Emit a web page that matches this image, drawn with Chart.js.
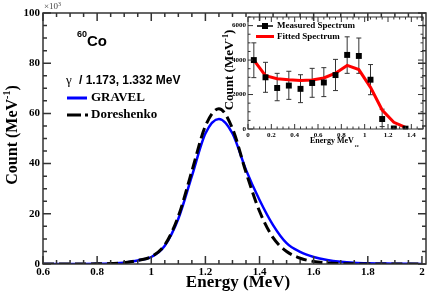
<!DOCTYPE html>
<html>
<head>
<meta charset="utf-8">
<script src="https://cdn.jsdelivr.net/npm/chart.js@4.4.1/dist/chart.umd.min.js"></script>
<style>
  html, body { margin: 0; padding: 0; background: #fff; }
  #wrap { position: relative; width: 436px; height: 295px; }
  #main { position: absolute; left: 0; top: 0; }
  #inset { position: absolute; left: 220px; top: 4px; }
</style>
</head>
<body>
<div id="wrap">
  <canvas id="main" width="436" height="295"></canvas>
  <canvas id="inset" width="210" height="146"></canvas>
</div>
<script>
// main spectrum, count in units of 10^3 per MeV
const energy = [0.6, 0.65, 0.7, 0.75, 0.8, 0.85, 0.9, 0.95, 1.0, 1.05, 1.1, 1.15, 1.2, 1.25, 1.3,
  1.35, 1.4, 1.45, 1.5, 1.55, 1.6, 1.65, 1.7, 1.75, 1.8, 1.85, 1.9, 1.95, 2.0];
const gravel = [0, 0, 0, 0, 0.05, 0.2, 0.5, 1.4, 2.8, 7.3, 18, 35, 52, 57.8, 52,
  37.5, 25.5, 15.5, 8.3, 4.8, 2.8, 1.6, 0.9, 0.5, 0.3, 0.2, 0.1, 0.05, 0];
const doreshenko = [0, 0, 0, 0, 0.05, 0.2, 0.5, 1.4, 2.9, 7.6, 19, 37, 55, 61.9, 54,
  36.5, 21, 10.5, 5, 2.3, 1.0, 0.4, 0.15, 0.05, 0, 0, 0, 0, 0];
const mainXTicks = [0.6, 0.8, 1, 1.2, 1.4, 1.6, 1.8, 2];
const mainYTicks = [0, 20, 40, 60, 80, 100];

// inset: unfolded neutron spectrum
const binEnergy = [0.05, 0.15, 0.25, 0.35, 0.45, 0.55, 0.65, 0.75, 0.85, 0.95, 1.05, 1.15, 1.25, 1.35];
const measured = [4000, 3000, 2380, 2520, 2330, 2670, 2700, 3130, 4300, 4240, 2860, 580, 30, 20];
const measuredLow = [2980, 2130, 1640, 1720, 1530, 1840, 1880, 2230, 3230, 3230, 1990, 140, 0, 0];
const measuredHigh = [5000, 3870, 3230, 3350, 3150, 3520, 3560, 4040, 5350, 5280, 3740, 1150, 90, 60];
const fitted = [4000, 3100, 2920, 2860, 2820, 2840, 2960, 3240, 3690, 3450, 2420, 1100, 390, 90];
const insetXTicks = [0, 0.2, 0.4, 0.6, 0.8, 1, 1.2, 1.4];
const insetYTicks = [0, 2000, 4000, 6000];

const SERIF = "'Liberation Serif', 'Times New Roman', serif";
const SANS = "'Liberation Sans', Arial, sans-serif";

const fmt = v => String(Math.round(v * 1000) / 1000);
const pts = (xs, ys) => xs.map((x, i) => ({ x, y: ys[i] }));

// frame with inward ticks on all four sides
function drawFrame(chart, xMajor, xStep, yMajor, yStep, len, lw) {
  const { ctx, chartArea: a, scales: { x, y } } = chart;
  const isMajor = (list, v) => list.some(m => Math.abs(m - v) < 1e-6);
  ctx.save();
  ctx.strokeStyle = '#333';
  ctx.lineWidth = lw;
  ctx.strokeRect(a.left, a.top, a.right - a.left, a.bottom - a.top);
  ctx.beginPath();
  for (let i = 0; x.min + i * xStep <= x.max + 1e-9; i++) {
    const v = x.min + i * xStep;
    const px = x.getPixelForValue(v);
    const l = isMajor(xMajor, v) ? len : len / 2;
    ctx.moveTo(px, a.bottom); ctx.lineTo(px, a.bottom - l);
    ctx.moveTo(px, a.top); ctx.lineTo(px, a.top + l);
  }
  for (let i = 0; y.min + i * yStep <= y.max + 1e-9; i++) {
    const v = y.min + i * yStep;
    const py = y.getPixelForValue(v);
    const l = isMajor(yMajor, v) ? len : len / 2;
    ctx.moveTo(a.left, py); ctx.lineTo(a.left + l, py);
    ctx.moveTo(a.right, py); ctx.lineTo(a.right - l, py);
  }
  ctx.stroke();
  ctx.restore();
}

// rotated title with a "-1" superscript
function drawYTitle(ctx, cx, cy, size, supSize) {
  const main = 'Count (MeV';
  ctx.save();
  ctx.translate(cx, cy);
  ctx.rotate(-Math.PI / 2);
  ctx.fillStyle = '#000';
  ctx.textBaseline = 'middle';
  ctx.font = `bold ${size}px ${SERIF}`;
  const w1 = ctx.measureText(main).width;
  const w3 = ctx.measureText(')').width;
  ctx.font = `bold ${supSize}px ${SERIF}`;
  const w2 = ctx.measureText('-1').width;
  let x0 = -(w1 + w2 + w3) / 2;
  ctx.font = `bold ${size}px ${SERIF}`;
  ctx.fillText(main, x0, 0);
  ctx.font = `bold ${supSize}px ${SERIF}`;
  ctx.fillText('-1', x0 + w1, -size * 0.35);
  ctx.font = `bold ${size}px ${SERIF}`;
  ctx.fillText(')', x0 + w1 + w2, 0);
  ctx.restore();
}

const mainDecor = {
  id: 'mainDecor',
  afterDraw(chart) {
    const ctx = chart.ctx;
    drawFrame(chart, mainXTicks, 0.05, mainYTicks, 5, 8, 1.5);
    ctx.save();
    ctx.fillStyle = '#444';
    ctx.textBaseline = 'alphabetic';
    ctx.font = `9px ${SERIF}`;
    ctx.fillText('×10', 44, 9);
    ctx.font = `6px ${SERIF}`;
    ctx.fillText('3', 58, 6);

    ctx.fillStyle = '#000';
    ctx.font = `bold 9px ${SANS}`;
    ctx.fillText('60', 77, 37);
    ctx.font = `bold 15px ${SANS}`;
    ctx.fillText('Co', 87, 46);

    ctx.font = `13px ${SERIF}`;
    ctx.fillText('γ', 66, 84);
    ctx.font = `bold 12px ${SANS}`;
    ctx.fillText('/ 1.173, 1.332 MeV', 79, 84);

    ctx.lineWidth = 3;
    ctx.strokeStyle = '#0000ff';
    ctx.beginPath(); ctx.moveTo(67, 98); ctx.lineTo(87, 98); ctx.stroke();
    ctx.strokeStyle = '#000';
    ctx.setLineDash([14, 4]);
    ctx.beginPath(); ctx.moveTo(67, 115); ctx.lineTo(88, 115); ctx.stroke();
    ctx.setLineDash([]);
    ctx.textBaseline = 'middle';
    ctx.font = `bold 13px ${SERIF}`;
    ctx.fillText('GRAVEL', 91, 98);
    ctx.fillText('Doreshenko', 91, 115);

    ctx.textAlign = 'center';
    ctx.font = `bold 17px ${SERIF}`;
    ctx.fillText('Energy (MeV)', 238, 283);
    ctx.restore();
    drawYTitle(ctx, 13, 135, 16, 10);
  }
};

const insetDecor = {
  id: 'insetDecor',
  beforeDatasetsDraw(chart) {
    const { ctx, scales: { x, y } } = chart;
    ctx.save();
    ctx.strokeStyle = '#333';
    ctx.lineWidth = 1;
    ctx.beginPath();
    binEnergy.forEach((e, i) => {
      const px = x.getPixelForValue(e);
      const top = y.getPixelForValue(measuredHigh[i]);
      const bot = y.getPixelForValue(measuredLow[i]);
      ctx.moveTo(px, top); ctx.lineTo(px, bot);
      ctx.moveTo(px - 2.5, top); ctx.lineTo(px + 2.5, top);
      ctx.moveTo(px - 2.5, bot); ctx.lineTo(px + 2.5, bot);
    });
    ctx.stroke();
    ctx.restore();
  },
  afterDraw(chart) {
    const ctx = chart.ctx;
    drawFrame(chart, insetXTicks, 0.05, insetYTicks, 500, 5, 1);
    ctx.save();
    ctx.lineWidth = 1.5;
    ctx.strokeStyle = '#000';
    ctx.beginPath(); ctx.moveTo(37, 22); ctx.lineTo(53, 22); ctx.stroke();
    ctx.fillStyle = '#000';
    ctx.fillRect(42, 19, 6, 6);
    ctx.lineWidth = 3;
    ctx.strokeStyle = '#ff0000';
    ctx.beginPath(); ctx.moveTo(36, 32.5); ctx.lineTo(54, 32.5); ctx.stroke();
    ctx.textBaseline = 'middle';
    ctx.font = `bold 9px ${SERIF}`;
    ctx.fillText('Measured Spectrum', 57, 22);
    ctx.fillText('Fitted Spectrum', 57, 32.5);

    ctx.textBaseline = 'alphabetic';
    ctx.font = `bold 8px ${SERIF}`;
    ctx.fillText('Energy MeV', 90, 139);
    const w = ctx.measureText('Energy MeV').width;
    ctx.font = `bold 5px ${SERIF}`;
    ctx.fillText('ee', 91 + w, 142.5);
    ctx.restore();
    drawYTitle(ctx, 10, 66, 13, 8);
  }
};

const noGrid = { display: false, drawTicks: false };

new Chart(document.getElementById('main'), {
  type: 'line',
  data: {
    datasets: [
      { label: 'Doreshenko', data: pts(energy, doreshenko), borderColor: '#000', borderWidth: 3,
        borderDash: [11, 5], pointRadius: 0, cubicInterpolationMode: 'monotone', order: 0 },
      { label: 'GRAVEL', data: pts(energy, gravel), borderColor: '#0000ff', borderWidth: 2.5,
        pointRadius: 0, cubicInterpolationMode: 'monotone', order: 1 }
    ]
  },
  options: {
    responsive: false, animation: false, devicePixelRatio: 1,
    layout: { padding: { left: 0, top: 13, right: 10, bottom: 0 } },
    plugins: { legend: { display: false }, tooltip: { enabled: false } },
    scales: {
      x: {
        type: 'linear', min: 0.6, max: 2.015,
        grid: noGrid, border: { display: false },
        afterBuildTicks: s => { s.ticks = mainXTicks.map(value => ({ value })); },
        afterFit: s => { s.height = 31; },
        ticks: { font: { family: SERIF, size: 11, weight: 'bold' }, color: '#000', padding: 2,
          maxRotation: 0, autoSkip: false, callback: fmt }
      },
      y: {
        type: 'linear', min: 0, max: 100,
        grid: noGrid, border: { display: false },
        afterBuildTicks: s => { s.ticks = mainYTicks.map(value => ({ value })); },
        afterFit: s => { s.width = 43; },
        ticks: { font: { family: SERIF, size: 11, weight: 'bold' }, color: '#000', padding: 3,
          autoSkip: false, callback: fmt }
      }
    }
  },
  plugins: [mainDecor]
});

new Chart(document.getElementById('inset'), {
  type: 'line',
  data: {
    datasets: [
      { label: 'Measured Spectrum', data: pts(binEnergy, measured), showLine: false,
        pointStyle: 'rect', pointRadius: 4.2, backgroundColor: '#000', borderColor: '#000',
        borderWidth: 0, order: 0 },
      { label: 'Fitted Spectrum', data: pts(binEnergy, fitted), borderColor: '#ff0000',
        borderWidth: 3, pointRadius: 0, tension: 0, order: 1 }
    ]
  },
  options: {
    responsive: false, animation: false, devicePixelRatio: 1,
    layout: { padding: { left: 0, top: 13, right: 7, bottom: 0 } },
    plugins: { legend: { display: false }, tooltip: { enabled: false } },
    scales: {
      x: {
        type: 'linear', min: 0, max: 1.5,
        grid: noGrid, border: { display: false },
        afterBuildTicks: s => { s.ticks = insetXTicks.map(value => ({ value })); },
        afterFit: s => { s.height = 21; },
        ticks: { font: { family: SERIF, size: 7, weight: 'bold' }, color: '#000', padding: 2,
          maxRotation: 0, autoSkip: false, callback: fmt }
      },
      y: {
        type: 'linear', min: 0, max: 6500,
        grid: noGrid, border: { display: false },
        afterBuildTicks: s => { s.ticks = insetYTicks.map(value => ({ value })); },
        afterFit: s => { s.width = 28; },
        ticks: { font: { family: SERIF, size: 7, weight: 'bold' }, color: '#000', padding: 2,
          autoSkip: false, callback: fmt }
      }
    }
  },
  plugins: [insetDecor]
});
</script>
</body>
</html>
